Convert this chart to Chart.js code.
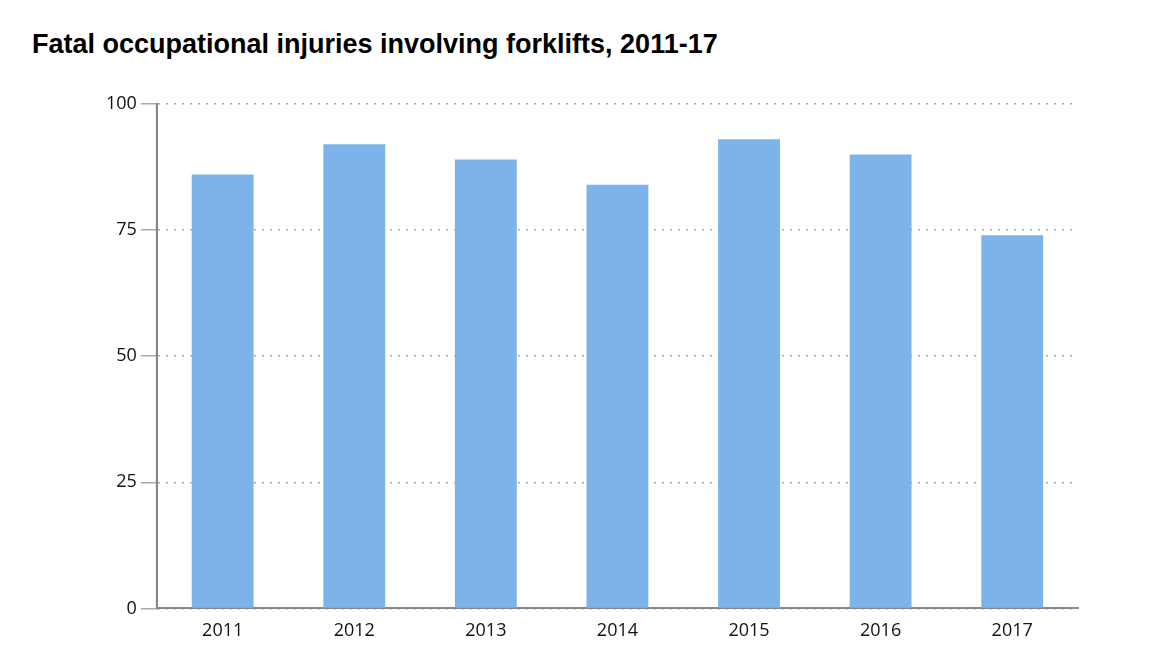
<!DOCTYPE html>
<html><head><meta charset="utf-8">
<script src="https://cdn.jsdelivr.net/npm/chart.js@4"></script>
<style>
html,body{margin:0;padding:0;background:#fff;}
#wrap{position:relative;width:1160px;height:672px;}
h1{position:absolute;left:32px;top:29px;margin:0;font:bold 27px "Liberation Sans",Arial,sans-serif;color:#000;}
#c{position:absolute;left:0;top:0;}
</style></head><body>
<div id="wrap"><h1>Fatal occupational injuries involving forklifts, 2011-17</h1>
<canvas id="c" width="1160" height="672"></canvas></div>
<script>
const categories = ["2011","2012","2013","2014","2015","2016","2017"];
const fatalities = [86, 92, 89, 84, 93, 90, 74];
const yTicks = [0, 25, 50, 75, 100];

new Chart(document.getElementById('c'), {
  type: 'bar',
  data: { labels: categories, datasets: [{ data: fatalities, backgroundColor: '#7cb3ea',
    barPercentage: 0.47, categoryPercentage: 1 }] },
  options: {
    responsive: false, animation: false,
    layout: { padding: { left: 102, right: 82, top: 104, bottom: 18 } },
    plugins: { legend: { display: false }, tooltip: { enabled: false } },
    scales: {
      x: { grid: { display: false, drawTicks: false },
           border: { color: '#888', width: 2 },
           ticks: { color: '#111', font: { family: 'Open Sans', size: 18 }, padding: 12 } },
      y: { min: 0, max: 100,
           afterBuildTicks: s => { s.ticks = yTicks.map(v => ({ value: v })); },
           grid: { color: '#aaa', lineWidth: 1.5, tickLength: 16, drawOnChartArea: true },
           border: { color: '#888', width: 2, dash: [2, 6] },
           ticks: { color: '#111', font: { family: 'Open Sans', size: 18 }, padding: 4 } }
    }
  },
  plugins: [{
    id: 'solidAxis',
    afterDraw(chart) {
      const { ctx, chartArea: a } = chart;
      ctx.save(); ctx.strokeStyle = '#888'; ctx.lineWidth = 2; ctx.setLineDash([]);
      ctx.beginPath(); ctx.moveTo(a.left, a.top); ctx.lineTo(a.left, a.bottom); ctx.stroke();
      ctx.restore();
    }
  }]
});
</script></body></html>
